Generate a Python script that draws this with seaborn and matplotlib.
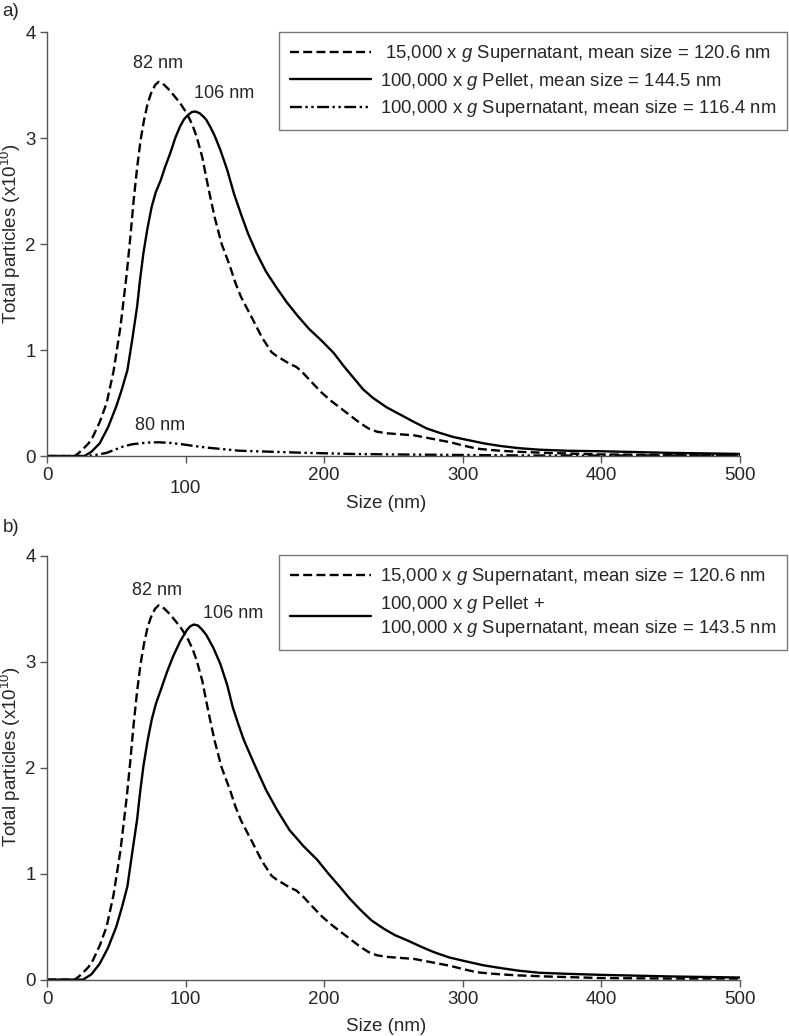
import numpy as np
import pandas as pd
import matplotlib
matplotlib.use("Agg")
import matplotlib.pyplot as plt
import seaborn as sns

# ---- data (size in nm, particles x1e10) ----
sup15_x = [0, 20, 23, 27, 30, 33, 38, 43, 48, 53, 57.5, 60, 62.5, 65, 67.5, 70, 72.5, 75, 78,
           80.5, 83, 87, 91, 96, 101, 105, 108, 112, 115, 118, 121, 126, 132, 136, 140, 148,
           155, 162, 166, 170, 175, 180, 185, 190, 198, 205, 214, 220, 226, 232, 238, 245,
           255, 265, 275, 283, 291, 300, 310, 318, 327, 340, 360, 400, 450, 500]
sup15_y = [0, 0, 0.03, 0.08, 0.12, 0.18, 0.32, 0.5, 0.8, 1.22, 1.72, 2.05, 2.41, 2.72, 2.98,
           3.17, 3.32, 3.42, 3.5, 3.53, 3.52, 3.47, 3.41, 3.33, 3.23, 3.12, 3.01, 2.82, 2.62,
           2.43, 2.25, 2.0, 1.79, 1.63, 1.5, 1.3, 1.12, 0.98, 0.94, 0.91, 0.87, 0.84, 0.78,
           0.71, 0.6, 0.52, 0.43, 0.37, 0.31, 0.26, 0.23, 0.215, 0.205, 0.195, 0.17, 0.15,
           0.13, 0.1, 0.07, 0.06, 0.05, 0.04, 0.03, 0.015, 0.01, 0.01]

pellet_x = [0, 27, 32, 38, 44, 50, 54, 58, 61.5, 65, 67, 69.5, 72.5, 75.5, 78.5, 82, 85, 89,
            92.5, 96, 99, 102, 104.5, 107, 110, 113, 115, 118, 121, 125, 130, 135, 140, 145,
            151, 158, 165, 173, 181, 189, 198, 207, 214, 221, 228, 235, 245, 255, 265, 274,
            283, 293, 304, 315, 327, 340, 355, 375, 400, 450, 500]
pellet_y = [0, 0, 0.04, 0.12, 0.27, 0.47, 0.63, 0.81, 1.1, 1.41, 1.65, 1.91, 2.15, 2.35, 2.49,
            2.6, 2.72, 2.86, 3.0, 3.11, 3.18, 3.22, 3.245, 3.25, 3.235, 3.2, 3.17, 3.1, 3.02,
            2.89, 2.7, 2.47, 2.28, 2.1, 1.92, 1.74, 1.6, 1.45, 1.32, 1.2, 1.09, 0.97, 0.85,
            0.74, 0.63, 0.55, 0.46, 0.39, 0.32, 0.26, 0.22, 0.18, 0.15, 0.12, 0.095, 0.075,
            0.06, 0.05, 0.045, 0.03, 0.02]

sup100_x = [0, 28, 35, 43, 49, 55, 61, 67, 74, 80, 88, 98, 106, 115, 127, 139, 151, 163, 187,
            220, 250, 300, 350, 500]
sup100_y = [0, 0, 0.01, 0.03, 0.06, 0.09, 0.11, 0.12, 0.128, 0.13, 0.125, 0.11, 0.095, 0.08,
            0.065, 0.05, 0.045, 0.04, 0.03, 0.02, 0.015, 0.01, 0.005, 0.005]

combined_x = [0, 26, 32, 38, 44, 50, 54, 58, 61.5, 65, 67, 69.5, 72.5, 75.5, 78.5, 82, 86.5,
              91, 96, 101, 103.5, 106, 109, 112, 115, 120, 125, 130, 134, 138, 142, 150, 158,
              166, 175, 185, 195, 203, 211, 218, 226, 234, 243, 251, 260, 270, 279, 290, 303,
              315, 327, 340, 355, 375, 400, 450, 500]
combined_y = [0, 0, 0.05, 0.15, 0.3, 0.5, 0.68, 0.88, 1.2, 1.51, 1.75, 2.01, 2.25, 2.45, 2.6,
              2.73, 2.9, 3.05, 3.19, 3.3, 3.335, 3.35, 3.34, 3.3, 3.25, 3.13, 2.98, 2.78, 2.57,
              2.41, 2.26, 2.02, 1.79, 1.6, 1.41, 1.26, 1.13, 1.0, 0.88, 0.77, 0.66, 0.56, 0.48,
              0.42, 0.37, 0.31, 0.26, 0.21, 0.17, 0.135, 0.11, 0.085, 0.065, 0.055, 0.045,
              0.03, 0.02]

x_ticks = [0, 100, 200, 300, 400, 500]
y_ticks = [0, 1, 2, 3, 4]

label_sup15 = r'15,000 x $\it{g}$ Supernatant, mean size = 120.6 nm'
label_pellet = r'100,000 x $\it{g}$ Pellet, mean size = 144.5 nm'
label_sup100 = r'100,000 x $\it{g}$ Supernatant, mean size = 116.4 nm'
label_combined = (r'100,000 x $\it{g}$ Pellet +' + '\n' +
                  r'100,000 x $\it{g}$ Supernatant, mean size = 143.5 nm')

sns.set_style("ticks")
plt.rcParams['font.family'] = ['Liberation Sans', 'DejaVu Sans']
plt.rcParams['mathtext.fontset'] = 'custom'
plt.rcParams['mathtext.rm'] = 'Liberation Sans'
plt.rcParams['mathtext.it'] = 'Liberation Sans:italic'

dash = (0, (3.8, 1.8))
dashdot = (0, (5, 1.5, 1, 1.5, 1, 1.5))
lw = 1.7
grey = '#555555'

fig = plt.figure(figsize=(7.89, 10.36), dpi=100)
ax_a = fig.add_axes([0.0596, 0.5598, 0.8783, 0.4093])
ax_b = fig.add_axes([0.0596, 0.0544, 0.8783, 0.4093])


def draw_series(ax, xs, ys, ls, label):
    df = pd.DataFrame({'size': xs, 'particles': ys})
    sns.lineplot(data=df, x='size', y='particles', ax=ax, color='black', lw=lw,
                 linestyle=ls, label=label, legend=False)


draw_series(ax_a, sup15_x, sup15_y, dash, label_sup15)
draw_series(ax_a, pellet_x, pellet_y, '-', label_pellet)
draw_series(ax_a, sup100_x, sup100_y, dashdot, label_sup100)

draw_series(ax_b, sup15_x, sup15_y, dash, label_sup15)
draw_series(ax_b, combined_x, combined_y, '-', label_combined)

for ax in (ax_a, ax_b):
    ax.set_xlim(0, 500)
    ax.set_ylim(0, 4)
    ax.set_xticks(x_ticks)
    ax.set_yticks(y_ticks)
    ax.set_xticklabels([str(v) for v in x_ticks], fontsize=13.5)
    ax.set_yticklabels([str(v) for v in y_ticks], fontsize=13.5)
    ax.tick_params(direction='out', length=5, width=1, color=grey, pad=3)
    for s in ['top', 'right']:
        ax.spines[s].set_visible(False)
    for s in ['left', 'bottom']:
        ax.spines[s].set_color(grey)
        ax.spines[s].set_linewidth(1)
    ax.set_xlabel('Size (nm)', fontsize=13.5)
    ax.set_ylabel(r'Total particles (x10$^{10}$)', fontsize=13.5)
    ax.yaxis.set_label_coords(-0.034, 0.525)

ax_a.xaxis.set_label_coords(0.49, -0.092)
ax_b.xaxis.set_label_coords(0.49, -0.091)

# "100" tick label in panel a sits lower in the reference
ax_a.xaxis.get_major_ticks()[1].set_pad(12.5)

leg_kw = dict(loc='upper right', bbox_transform=fig.transFigure, fontsize=13.3,
              frameon=True, fancybox=False, edgecolor=grey, handlelength=4.4,
              handletextpad=0.45, labelspacing=0.35, borderpad=0.6, borderaxespad=0)
lines_a = ax_a.get_lines()
leg_a = ax_a.legend(lines_a, [' ' + label_sup15, label_pellet, label_sup100],
                    bbox_to_anchor=(787 / 789, 1 - 32 / 1036), **leg_kw)
lines_b = ax_b.get_lines()
leg_b = ax_b.legend(lines_b, [label_sup15, label_combined],
                    bbox_to_anchor=(787 / 789, 1 - 555 / 1036), **leg_kw)
for leg in (leg_a, leg_b):
    leg.get_frame().set_linewidth(1)

# peak annotations
ax_a.text(80.4, 3.70, '82 nm', ha='center', va='center', fontsize=13)
ax_a.text(127.7, 3.42, '106 nm', ha='center', va='center', fontsize=13)
ax_a.text(81.5, 0.29, '80 nm', ha='center', va='center', fontsize=13)
ax_b.text(79.7, 3.67, '82 nm', ha='center', va='center', fontsize=13)
ax_b.text(134, 3.45, '106 nm', ha='center', va='center', fontsize=13)

fig.text(0.003, 1 - 11 / 1036, 'a)', fontsize=13.5, va='center')
fig.text(0.003, 1 - 528 / 1036, 'b)', fontsize=13.5, va='center')

fig.savefig('out.png', dpi=100)
